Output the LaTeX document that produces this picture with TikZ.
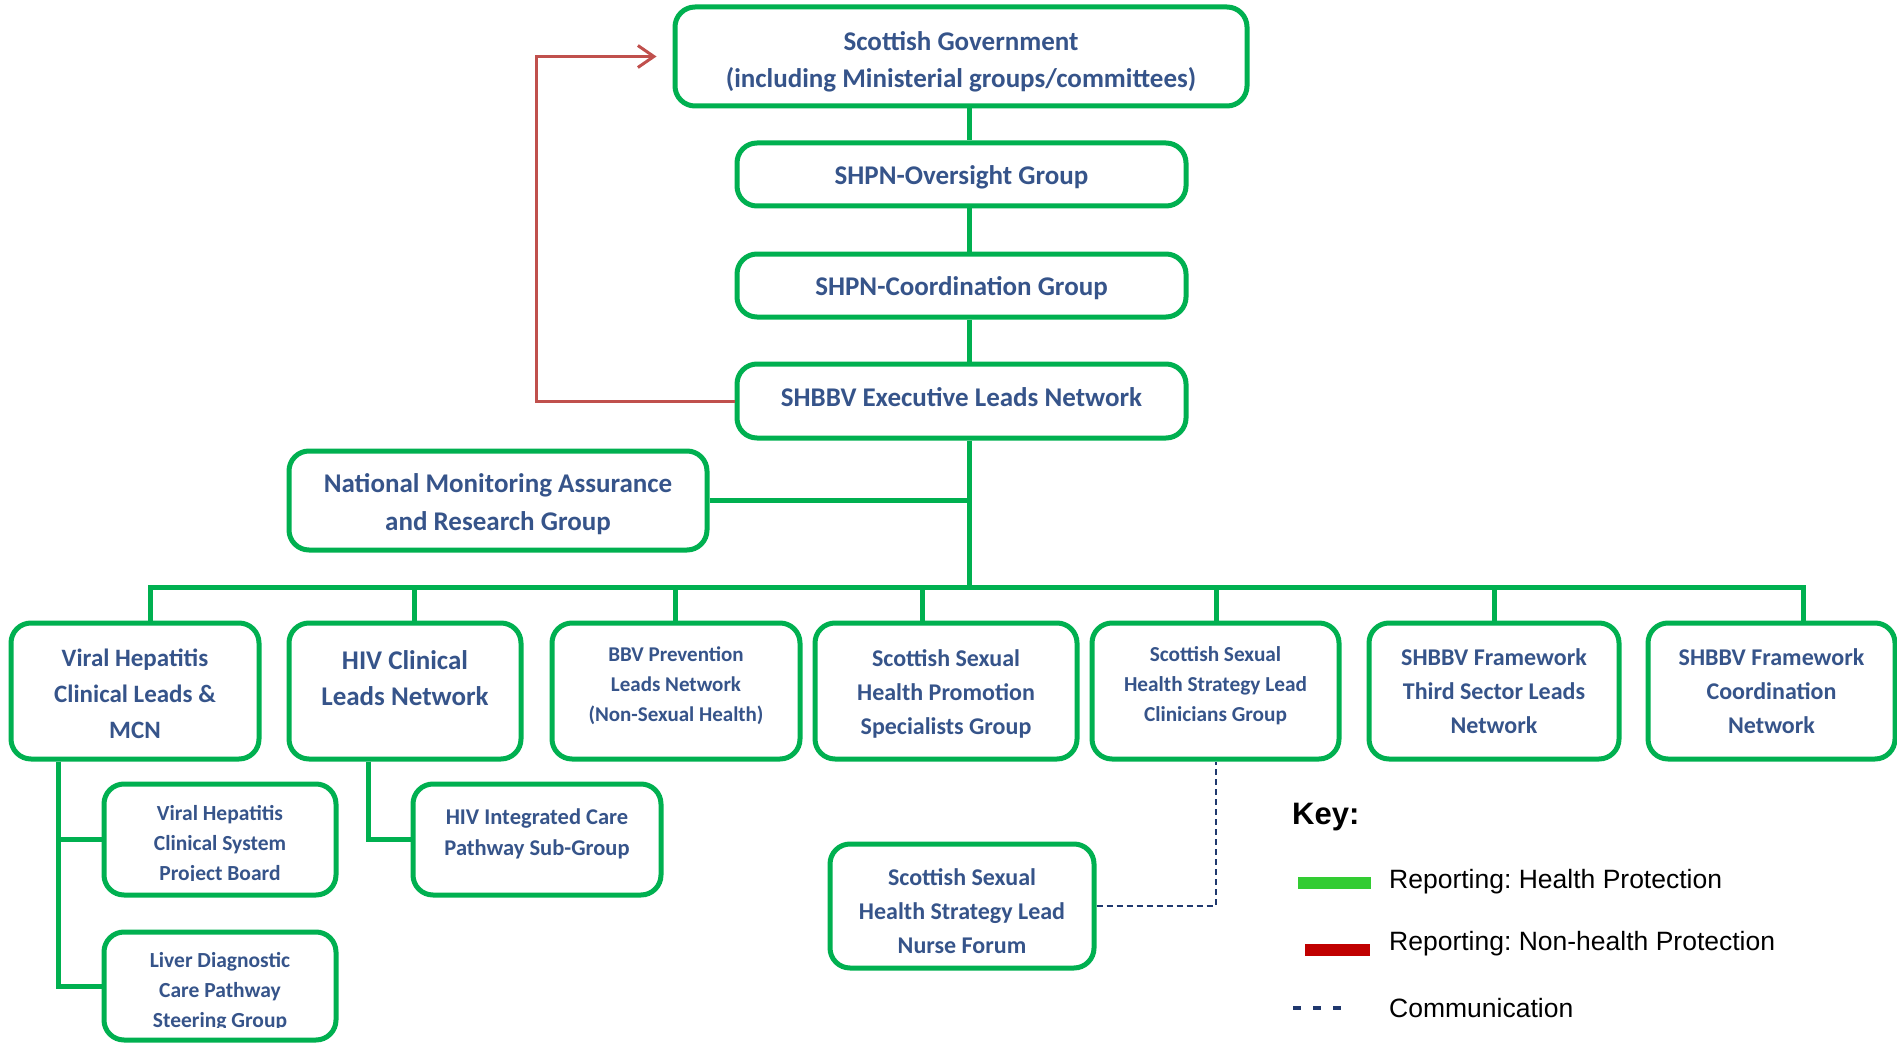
\documentclass[tikz,border=0pt]{standalone}
\usepackage{fontspec}
\setmainfont{Carlito}
\newfontfamily\keyfont{Liberation Sans}
\usetikzlibrary{arrows.meta,calc}
\definecolor{boxgreen}{RGB}{0,176,80}
\definecolor{labelblue}{RGB}{54,84,138}
\definecolor{nonhealth}{RGB}{192,80,77}
\definecolor{keygreen}{RGB}{51,204,51}
\definecolor{keyred}{RGB}{192,0,0}
\definecolor{commblue}{RGB}{31,56,110}
\newcommand\bx[2]{\bfseries\fontsize{#1}{#2}\selectfont}
\newcommand\kf[2]{\keyfont\frenchspacing\fontsize{#1}{#2}\selectfont}

\begin{document}
\begin{tikzpicture}[x=1pt,y=-1pt,
  box/.style={draw=boxgreen, line width=5pt, rounded corners=20pt, fill=white, inner sep=0pt},
  txt/.style={text=labelblue, align=center, inner sep=0pt},
  link/.style={draw=boxgreen, line width=5pt},
  redlink/.style={draw=nonhealth, line width=3pt},
  comm/.style={draw=commblue, line width=2pt, dash pattern=on 6pt off 4pt},
  keytext/.style={anchor=base west, inner sep=0pt, font=\kf{26.5}{30}}
]
\useasboundingbox (0,0) rectangle (1897,1043);

% ---------- top chain ----------
\node[box, minimum width=572, minimum height=99] (sg) at (961,56.5) {};
\node[txt, font=\bx{27}{37}] (sgt) at ($(sg.center)+(0,5)$)
  {Scottish Government\\(including Ministerial groups/committees)};
\node[box, minimum width=449, minimum height=63] (ov) at (961.5,174.5) {};
\node[txt, font=\bx{27}{30}] (ovt) at ($(ov.center)+(0,2.5)$) {SHPN-Oversight Group};
\node[box, minimum width=449, minimum height=63] (co) at (961.5,285.5) {};
\node[txt, font=\bx{27}{30}] (cot) at ($(co.center)+(0,2.5)$) {SHPN-Coordination Group};
\node[box, minimum width=449, minimum height=74] (ex) at (961.5,401) {};
\node[txt, font=\bx{27}{30}] (ext) at ($(ex.center)+(0,-4)$) {SHBBV Executive Leads Network};
\node[box, minimum width=418, minimum height=99] (nmr) at (498,500.5) {};
\node[txt, font=\bx{27}{38}] (nmrt) at ($(nmr.center)+(0,4)$)
  {National Monitoring Assurance\\and Research Group};

% ---------- second tier ----------
\node[box, minimum width=248, minimum height=136] (vh) at (135,691) {};
\node[txt, font=\bx{25}{36}] (vht) at ($(vh.center)+(0,2.5)$)
  {Viral Hepatitis\\Clinical Leads \&\\MCN};
\node[box, minimum width=232, minimum height=136] (hiv) at (405,691) {};
\node[txt, font=\bx{27}{36}] (hivt) at ($(hiv.center)+(0,-13)$) {HIV Clinical\\Leads Network};
\node[box, minimum width=248, minimum height=136] (bbv) at (676,691) {};
\node[txt, font=\bx{21}{30}] (bbvt) at ($(bbv.center)+(0,-5)$)
  {BBV Prevention\\Leads Network\\(Non-Sexual Health)};
\node[box, minimum width=262, minimum height=136] (ssp) at (946,691) {};
\node[txt, font=\bx{24}{34}] (sspt) at ($(ssp.center)+(0,2.5)$)
  {Scottish Sexual\\Health Promotion\\Specialists Group};
\node[box, minimum width=247, minimum height=136] (ssl) at (1215.5,691) {};
\node[txt, font=\bx{21.3}{30}] (sslt) at ($(ssl.center)+(0,-5)$)
  {Scottish Sexual\\Health Strategy Lead\\Clinicians Group};
\node[box, minimum width=250, minimum height=136] (tsl) at (1494,691) {};
\node[txt, font=\bx{24}{34}] (tslt) at ($(tsl.center)+(0,0.5)$)
  {SHBBV Framework\\Third Sector Leads\\Network};
\node[box, minimum width=247, minimum height=136] (crd) at (1771.5,691) {};
\node[txt, font=\bx{24}{34}] (crdt) at ($(crd.center)+(0,0.5)$)
  {SHBBV Framework\\Coordination\\Network};

% ---------- third tier ----------
\node[box, minimum width=232, minimum height=111] (vhcs) at (220,839.5) {};
\begin{scope}
  \clip (vhcs.north west) rectangle ($(vhcs.south east)+(0,-17)$);
  \node[txt, font=\bx{21.5}{30}] (vhcst) at ($(vhcs.center)+(0,5.5)$)
    {Viral Hepatitis\\Clinical System\\Project Board};
\end{scope}
\node[box, minimum width=232, minimum height=108] (liver) at (220,986) {};
\begin{scope}
  \clip (liver.north west) rectangle ($(liver.south east)+(0,-15)$);
  \node[txt, font=\bx{21.5}{30}] (livert) at ($(liver.center)+(0,6)$)
    {Liver Diagnostic\\Care Pathway\\Steering Group};
\end{scope}
\node[box, minimum width=248, minimum height=111] (hic) at (537,839.5) {};
\node[txt, font=\bx{22.5}{31}] (hict) at ($(hic.center)+(0,-6)$)
  {HIV Integrated Care\\Pathway Sub-Group};
\node[box, minimum width=264, minimum height=124] (nurse) at (962,906) {};
\node[txt, font=\bx{24}{34}] (nurset) at ($(nurse.center)+(0,5)$)
  {Scottish Sexual\\Health Strategy Lead\\Nurse Forum};

% ---------- reporting lines ----------
\coordinate (tr) at (969,0);
\coordinate (hub) at (969,587);
\draw[link] (sg.south -| tr) -- (ov.north -| tr);
\draw[link] (ov.south -| tr) -- (co.north -| tr);
\draw[link] (co.south -| tr) -- (ex.north -| tr);
\draw[link] (ex.south -| tr) -- (hub);
\draw[link] (nmr.east) -- (nmr.east -| hub);

\coordinate (d1) at (150,587);
\coordinate (d2) at (414,587);
\coordinate (d3) at (675,587);
\coordinate (d4) at (922,587);
\coordinate (d5) at (1216,587);
\coordinate (d6) at (1494,587);
\coordinate (d7) at (1803,587);
\draw[link, line join=miter] (vh.north -| d1) -- (d1) -- (d7) -- (crd.north -| d7);
\draw[link] (d2) -- (hiv.north -| d2);
\draw[link] (d3) -- (bbv.north -| d3);
\draw[link] (d4) -- (ssp.north -| d4);
\draw[link] (d5) -- (ssl.north -| d5);
\draw[link] (d6) -- (tsl.north -| d6);

\coordinate (vx) at (58,0);
\draw[link, line join=miter] (vh.south -| vx) |- (liver.west);
\draw[link] (vhcs.west -| vx) -- (vhcs.west);
\coordinate (hx) at (368,0);
\draw[link, line join=miter] (hiv.south -| hx) |- (hic.west);

% non-health reporting route
\coordinate (rx) at (536,0);
\draw[redlink, shorten >=16pt, -{Straight Barb[length=16pt,width=22pt,line width=3pt]}]
  (ex.west) -- (ex.west -| rx) |- (sg.west);

% communication link
\draw[comm] (nurse.east) -| (ssl.south);

% ---------- key ----------
\node[anchor=base west, inner sep=0pt, font=\keyfont\bfseries\fontsize{31}{36}\selectfont] (keyttl) at (1292,824) {Key:};
\node[fill=keygreen, minimum width=73, minimum height=12, inner sep=0pt] (kgreen) at (1334,883) {};
\node[keytext] (kgt) at (1389,888) {Reporting: Health Protection};
\node[fill=keyred, minimum width=65, minimum height=12, inner sep=0pt] (kred) at (1337,950) {};
\node[keytext] (krt) at (1389,950) {Reporting: Non-health Protection};
\coordinate (kc1) at (1293,1008);
\coordinate (kc2) at (1343,1008);
\draw[draw=commblue, line width=4pt, dash pattern=on 8pt off 12pt] (kc1) -- (kc2);
\node[keytext] (kct) at (1389,1017) {Communication};
\end{tikzpicture}
\end{document}
